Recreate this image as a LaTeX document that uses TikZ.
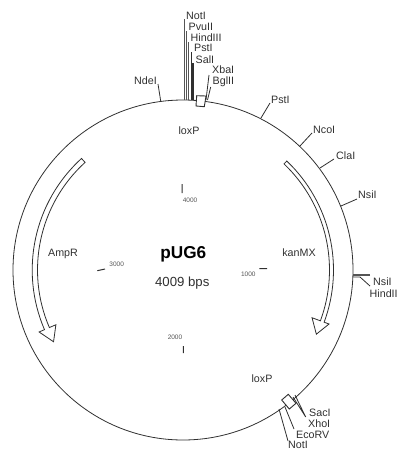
\documentclass[tikz,border=0pt]{standalone}
\usepackage{fontspec}
\setmainfont{Liberation Sans}
\definecolor{ink}{HTML}{303030}
\definecolor{soft}{HTML}{555555}
\tikzset{
  site/.style={inner sep=0pt,anchor=west,text=ink,font=\fontsize{10.7}{12}\selectfont},
  tick/.style={font=\fontsize{6.5}{8}\selectfont,text=soft,inner sep=0pt},
  leader/.style={draw=ink,line width=0.8pt},
  ticks/.style={draw=ink,line width=1pt},
  gene/.style={draw=ink,fill=white,line width=0.8pt,line join=miter},
  box/.style={draw=ink,fill=white,line width=0.9pt},
}
\begin{document}
\begin{tikzpicture}[x=1pt,y=-1pt]
\useasboundingbox (0,0) rectangle (398,450);
\coordinate (c) at (183,270);
\node[circle,draw=ink,line width=0.8pt,minimum size=340pt,inner sep=0pt] (plasmid) at (c) {};

% top sites
\node[site] (notI)  at (186,16) {NotI};
\node[site] (pvuII) at (188.5,27) {PvuII};
\node[site] (hindIII) at (190.5,38) {HindIII};
\node[site] (pstIa) at (194,48) {PstI};
\node[site] (salI)  at (195.5,60) {SalI};
\node[site] (xbaI)  at (212,70) {XbaI};
\node[site] (bglII) at (212.5,82) {BglII};
\node[site,anchor=east] (ndeI) at (157,81) {NdeI};
\node[site] (pstIb) at (271,100) {PstI};
\node[site] (ncoI)  at (313,130) {NcoI};
\node[site] (claI)  at (336,156) {ClaI};
\node[site] (nsiIa) at (358,195) {NsiI};
\node[site] (nsiIb) at (373,282) {NsiI};
\node[site] (hindII) at (369.5,294) {HindII};
\node[site] (sacI)  at (309,413) {SacI};
\node[site] (xhoI)  at (308,424) {XhoI};
\node[site] (ecoRV) at (296,434.5) {EcoRV};
\node[site] (notIb) at (288,445) {NotI};

\coordinate (a1) at (184.3,19);  \coordinate (b1) at (184.3,100);
\coordinate (a2) at (186.7,31);  \coordinate (b2) at (186.7,100);
\coordinate (a3) at (188.7,42);  \coordinate (b3) at (188.7,100);
\coordinate (a4) at (191.7,52);  \coordinate (b4) at (191.7,100);
\coordinate (a5) at (193,63);    \coordinate (b5) at (193,100);
\coordinate (a6) at (209,75);    \coordinate (b6) at (206,100);
\coordinate (a7) at (210.7,87);  \coordinate (b7) at (207.5,100);
\coordinate (a8) at (158,84);    \coordinate (b8) at (160.7,101);
\coordinate (a9) at (270,103);   \coordinate (b9) at (261,118);
\coordinate (a10) at (312,133);  \coordinate (b10) at (300,146);
\coordinate (a11) at (334,159);  \coordinate (b11) at (320,168);
\coordinate (a12) at (357,199);  \coordinate (b12) at (341,206);
\coordinate (a13) at (370,275);  \coordinate (b13) at (353,275);
\coordinate (a14) at (370,286);  \coordinate (b14) at (360,277);
\coordinate (a15) at (305.7,417);\coordinate (b15) at (295,395);
\coordinate (b16) at (293,397);
\coordinate (a17) at (294,429);  \coordinate (b17) at (285,407);
\coordinate (a18) at (288,441);  \coordinate (b18) at (279,409);

\draw[leader,line width=1.3pt,draw=soft] (a1)--(b1) (a2)--(b2) (a3)--(b3);
\draw[leader,line width=1.1pt] (a4)--(b4) (a5)--(b5);
\draw[leader] (a6)--(b6) (a7)--(b7) (a8)--(b8) (a9)--(b9) (a10)--(b10) (a11)--(b11) (a12)--(b12);
\draw[leader,line width=1.5pt,draw=soft] (a13)--(b13);
\draw[leader] (a14)--(b14) -- (353,277);
\draw[leader] (a15)--(b15) (a15)--(b16) (a17)--(b17) (a18)--(b18);

% loxP boxes
\draw[box] (196.7,95.7)--(206,96)--(204.3,106.7)--(196,106)--cycle;
\draw[box] (281.7,400)--(288.3,394.3)--(296,403.3)--(289.3,409)--cycle;
\node[site,anchor=center] (loxA) at (189,131) {loxP};
\node[site,anchor=center] (loxB) at (262,379) {loxP};

% genes
\begin{scope}[shift={(183,270)},y=1pt]
\draw[gene] (46.4:146.5) arc[start angle=46.4,end angle=-20.3,radius=146.5]
  -- (-20.3:137.6) -- (-25.7:148) -- (-20.3:155.7) -- (-20.3:150.5)
  arc[start angle=-20.3,end angle=46.4,radius=150.5] -- cycle;
\draw[gene] (132.3:145.5) arc[start angle=132.3,end angle=203.3,radius=145.5]
  -- (203.3:138.4) -- (209:148) -- (203.3:156.7) -- (203.3:150.8)
  arc[start angle=203.3,end angle=132.3,radius=150.8] -- cycle;
\end{scope}
\node[site,anchor=center] (kan) at (299,253) {kanMX};
\node[site,anchor=center] (amp) at (63,254) {AmpR};

% scale
\coordinate (t1a) at (182,184); \coordinate (t1b) at (182,193);
\coordinate (t2a) at (259.3,268.7); \coordinate (t2b) at (267,268.7);
\coordinate (t3a) at (183.3,346); \coordinate (t3b) at (183.3,353);
\coordinate (t4a) at (97.3,270.7); \coordinate (t4b) at (105,269);
\draw[ticks] (t1a)--(t1b) (t2a)--(t2b) (t3a)--(t3b) (t4a)--(t4b);
\node[tick] (n4000) at (190,200.7) {4000};
\node[tick] (n1000) at (248.3,274) {1000};
\node[tick] (n2000) at (175,337.7) {2000};
\node[tick] (n3000) at (116.7,264) {3000};

\node[inner sep=0pt,text=black,font=\fontsize{17.2}{20}\selectfont\bfseries] (name) at (183.3,254) {pUG6};
\node[inner sep=0pt,text=ink,font=\fontsize{13.2}{15}\selectfont] (size) at (182.3,282.7) {4009 bps};
\end{tikzpicture}
\end{document}
